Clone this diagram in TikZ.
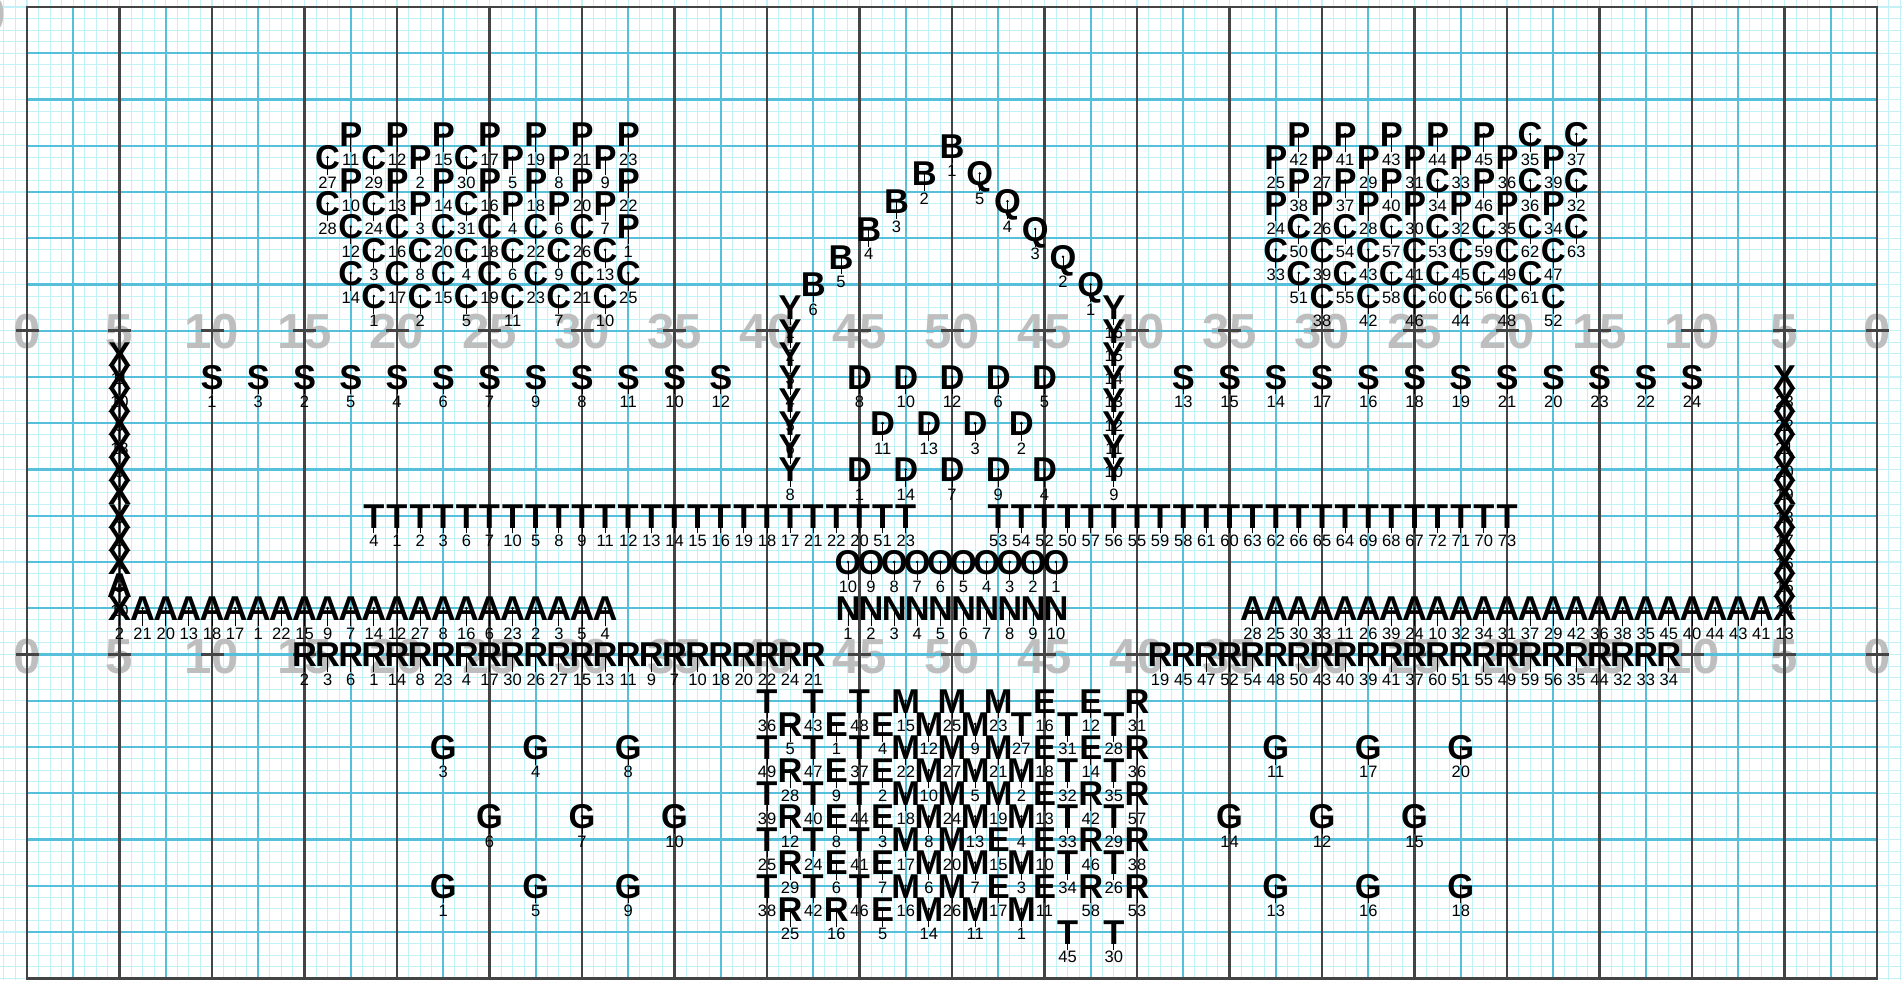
\documentclass[tikz,border=0pt]{standalone}
\usepackage{fontspec}
\setmainfont{Liberation Sans}
\usepackage{xcolor}
\usepackage{tikz}
\definecolor{gridFaint}{HTML}{C2F1F8}
\definecolor{gridCyan}{HTML}{56C0DA}
\definecolor{lineDark}{HTML}{444444}
\definecolor{yardGray}{HTML}{BEBEBE}
\newcounter{spot}

\begin{document}
\begin{tikzpicture}[x=0.02cm,y=-0.02cm]

            \tikzset{
                gridfaint/.style={draw=gridFaint, line width=0.6pt},
                gridmajor/.style={draw=gridCyan, line width=1.35pt},
                gridyard/.style={draw=lineDark, line width=1.45pt},
                hashmark/.style={draw=lineDark, line width=1.5pt},
                yardnum/.style={
                    font=\bfseries\fontsize{28}{28}\selectfont,
                    text=yardGray, inner sep=0pt,
                    text height=20pt, text depth=0pt
                },
                spotletter/.style={
                    font=\bfseries\fontsize{19.6}{20}\selectfont,
                    inner sep=0pt, text height=14pt, text depth=0pt
                },
                spotlabel/.style={
                    font=\fontsize{9.4}{10}\selectfont,
                    inner sep=0.6pt, text height=6.7pt, text depth=0pt
                },
                spottick/.style={line width=0.5pt}
            }

            \newcommand{\Spot}[4]{%
                \stepcounter{spot}%
                \node[spotletter] (s\thespot) at ({#1},{#2}) {#3};
                \fill (s\thespot.center) circle (0.8pt);
                \node[spotlabel] (n\thespot) at ({#1},{#2+25}) {#4};
                \draw[spottick] (s\thespot.center) -- (n\thespot.north);
            }

            \newcommand{\SpotLine}[5]{%
                \foreach \ltr/\lbl [count=\i from 0] in {#5}
                    {\Spot{#1+\i*(#3)}{#2+\i*(#4)}{\ltr}{\lbl}}%
            }

            \useasboundingbox (0,0) rectangle (1902,980);
            \fill[white] (0,0) rectangle (1902,980);

            \foreach \n in {-2,...,162}
                {\draw[gridfaint] ({27+\n*11.5625},0) -- ({27+\n*11.5625},980);}
            \foreach \n in {0,...,84}
                {\draw[gridfaint] (0,{7+\n*11.5625}) -- (1902,{7+\n*11.5625});}

            \node[yardnum] (cornerzero) at (-8,14) {0};
            \foreach \m/\v in {0/0,1/5,2/10,3/15,4/20,5/25,6/30,7/35,8/40,9/45,10/50,
                               11/45,12/40,13/35,14/30,15/25,16/20,17/15,18/10,19/5,20/0}
                {\node[yardnum] (ytop\m) at ({27+\m*92.5},330.75) {\v};
                 \node[yardnum] (ybot\m) at ({27+\m*92.5},655.5) {\v};}

            \foreach \k in {1,3,...,39}
                {\draw[gridmajor] ({27+\k*46.25},7) -- ({27+\k*46.25},978.25);}
            \foreach \j in {1,...,20}
                {\draw[gridmajor] (27,{7+\j*46.25}) -- (1877,{7+\j*46.25});}
            \foreach \m in {0,...,20}
                {\draw[gridyard] ({27+\m*92.5},7) -- ({27+\m*92.5},978.25);
                 \draw[hashmark] ({15.5+\m*92.5},330.75) -- ++(23,0);
                 \draw[hashmark] ({15.5+\m*92.5},654.5) -- ++(23,0);}
            \draw[gridyard] (27,7) rectangle (1877,978.25);

            \SpotLine{350.75}{134.19}{46.25}{0}{P/11,P/12,P/15,P/17,P/19,P/21,P/23}
            \SpotLine{327.625}{157.31}{46.25}{0}{C/27,C/29,P/2,C/30,P/5,P/8,P/9}
            \SpotLine{350.75}{180.44}{46.25}{0}{P/10,P/13,P/14,P/16,P/18,P/20,P/22}
            \SpotLine{327.625}{203.56}{46.25}{0}{C/28,C/24,P/3,C/31,P/4,P/6,P/7}
            \SpotLine{350.75}{226.69}{46.25}{0}{C/12,C/16,C/20,C/18,C/22,C/26,P/1}
            \SpotLine{373.875}{249.81}{46.25}{0}{C/3,C/8,C/4,C/6,C/9,C/13}
            \SpotLine{350.75}{272.94}{46.25}{0}{C/14,C/17,C/15,C/19,C/23,C/21,C/25}
            \SpotLine{373.875}{296.06}{46.25}{0}{C/1,C/2,C/5,C/11,C/7,C/10}

            \SpotLine{1298.875}{134.19}{46.25}{0}{P/42,P/41,P/43,P/44,P/45,C/35,C/37}
            \SpotLine{1275.75}{157.31}{46.25}{0}{P/25,P/27,P/29,P/31,P/33,P/36,P/39}
            \SpotLine{1298.875}{180.44}{46.25}{0}{P/38,P/37,P/40,C/34,P/46,C/36,C/32}
            \SpotLine{1275.75}{203.56}{46.25}{0}{P/24,P/26,P/28,P/30,P/32,P/35,P/34}
            \SpotLine{1298.875}{226.69}{46.25}{0}{C/50,C/54,C/57,C/53,C/59,C/62,C/63}
            \SpotLine{1275.75}{249.81}{46.25}{0}{C/33,C/39,C/43,C/41,C/45,C/49,C/47}
            \SpotLine{1298.875}{272.94}{46.25}{0}{C/51,C/55,C/58,C/60,C/56,C/61}
            \SpotLine{1322}{296.06}{46.25}{0}{C/38,C/42,C/46,C/44,C/48,C/52}

            \SpotLine{952}{145.75}{-27.75}{27.75}{B/1,B/2,B/3,B/4,B/5,B/6}
            \SpotLine{1090.75}{284.5}{-27.75}{-27.75}{Q/1,Q/2,Q/3,Q/4,Q/5}
            \SpotLine{790.125}{307.625}{0}{23.125}{Y/1,Y/2,Y/3,Y/4,Y/5,Y/6,Y/7,Y/8}
            \SpotLine{1113.875}{307.625}{0}{23.125}{Y/16,Y/15,Y/14,Y/13,Y/12,Y/11,Y/10,Y/9}

            \SpotLine{859.5}{376.75}{46.25}{0}{D/8,D/10,D/12,D/6,D/5}
            \SpotLine{882.625}{423.25}{46.25}{0}{D/11,D/13,D/3,D/2}
            \SpotLine{859.5}{469.5}{46.25}{0}{D/1,D/14,D/7,D/9,D/4}

            \SpotLine{212}{376.75}{46.25}{0}{S/1,S/3,S/2,S/5,S/4,S/6,S/7,S/9,S/8,S/11,S/10,S/12}
            \SpotLine{1183.25}{376.75}{46.25}{0}{S/13,S/15,S/14,S/17,S/16,S/18,S/19,S/21,S/20,S/23,S/22,S/24}

            \SpotLine{373.875}{515.75}{23.125}{0}{T/4,T/1,T/2,T/3,T/6,T/7,T/10,T/5,T/8,T/9,T/11,T/12,
                T/13,T/14,T/15,T/16,T/19,T/18,T/17,T/21,T/22,T/20,T/51,T/23}
            \SpotLine{998.25}{515.75}{23.125}{0}{T/53,T/54,T/52,T/50,T/57,T/56,T/55,T/59,T/58,T/61,T/60,
                T/63,T/62,T/66,T/65,T/64,T/69,T/68,T/67,T/72,T/71,T/70,T/73}

            \SpotLine{847.94}{562}{23.125}{0}{O/10,O/9,O/8,O/7,O/6,O/5,O/4,O/3,O/2,O/1}
            \SpotLine{847.94}{608.25}{23.125}{0}{N/1,N/2,N/3,N/4,N/5,N/6,N/7,N/8,N/9,N/10}

            \SpotLine{119.5}{353.875}{0}{23.125}{X/11,X/10,X/9,X/18,X/8,X/7,X/6,X/5,X/4,X/3,A/10,X/2}
            \SpotLine{142.625}{608.25}{23.125}{0}{A/21,A/20,A/13,A/18,A/17,A/1,A/22,A/15,A/9,A/7,A/14,
                A/12,A/27,A/8,A/16,A/6,A/23,A/2,A/3,A/5,A/4}
            \SpotLine{1252.625}{608.25}{23.125}{0}{A/28,A/25,A/30,A/33,A/11,A/26,A/39,A/24,A/10,A/32,A/34,
                A/31,A/37,A/29,A/42,A/36,A/38,A/35,A/45,A/40,A/44,A/43,A/41}
            \SpotLine{1784.5}{377}{0}{23.125}{X/23,X/22,X/21,X/20,X/19,X/18,X/17,X/16,X/15,X/14,X/13}

            \SpotLine{304.5}{654.5}{23.125}{0}{R/2,R/3,R/6,R/1,R/14,R/8,R/23,R/4,R/17,R/30,R/26,R/27,
                R/15,R/13,R/11,R/9,R/7,R/10,R/18,R/20,R/22,R/24,R/21}
            \SpotLine{1160.125}{654.5}{23.125}{0}{R/19,R/45,R/47,R/52,R/54,R/48,R/50,R/43,R/40,R/39,R/41,
                R/37,R/60,R/51,R/55,R/49,R/59,R/56,R/35,R/44,R/32,R/33,R/34}

            \SpotLine{767}{700.75}{46.25}{0}{T/36,T/43,T/48,M/15,M/25,M/23,E/16,E/12,R/31}
            \SpotLine{790.125}{723.875}{46.25}{0}{R/5,E/1,E/4,M/12,M/9,T/27,T/31,T/28}
            \SpotLine{767}{747}{46.25}{0}{T/49,T/47,T/37,M/22,M/27,M/21,E/18,E/14,R/36}
            \SpotLine{790.125}{770.125}{46.25}{0}{R/28,E/9,E/2,M/10,M/5,M/2,T/32,T/35}
            \SpotLine{767}{793.25}{46.25}{0}{T/39,T/40,T/44,M/18,M/24,M/19,E/13,R/42,R/57}
            \SpotLine{790.125}{816.375}{46.25}{0}{R/12,E/8,E/3,M/8,M/13,M/4,T/33,T/29}
            \SpotLine{767}{839.5}{46.25}{0}{T/25,T/24,T/41,M/17,M/20,E/15,E/10,R/46,R/38}
            \SpotLine{790.125}{862.625}{46.25}{0}{R/29,E/6,E/7,M/6,M/7,M/3,T/34,T/26}
            \SpotLine{767}{885.75}{46.25}{0}{T/38,T/42,T/46,M/16,M/26,E/17,E/11,R/58,R/53}
            \SpotLine{790.125}{908.875}{46.25}{0}{R/25,R/16,E/5,M/14,M/11,M/1}
            \SpotLine{1067.625}{932}{46.25}{0}{T/45,T/30}

            \SpotLine{443.25}{747}{92.5}{0}{G/3,G/4,G/8}
            \SpotLine{489.5}{816.375}{92.5}{0}{G/6,G/7,G/10}
            \SpotLine{443.25}{885.75}{92.5}{0}{G/1,G/5,G/9}
            \SpotLine{1275.75}{747}{92.5}{0}{G/11,G/17,G/20}
            \SpotLine{1229.5}{816.375}{92.5}{0}{G/14,G/12,G/15}
            \SpotLine{1275.75}{885.75}{92.5}{0}{G/13,G/16,G/18}

\end{tikzpicture}
\end{document}
